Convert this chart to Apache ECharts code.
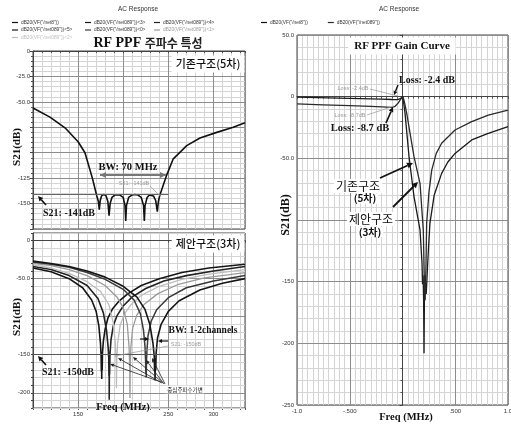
<!DOCTYPE html>
<html><head><meta charset="utf-8">
<script src="https://cdn.jsdelivr.net/npm/echarts@6/dist/echarts.min.js"></script>
<style>html,body{margin:0;padding:0;background:#fff}#c{width:511px;height:425px}</style>
</head><body><div id="c"></div>
<script>
// ---------- names ----------
const chartTitle = 'AC Response';
const NET8 = 'dB20(VF("/net8"))';
const NET089 = 'dB20(VF("/net089"))';
const n089 = k => NET089 + '<' + k + '>';

// ---------- tick labels ----------
const topYLabels = {'0':'0','-25':'-25.0','-50':'-50.0','-125':'-125','-150':'-150'};
const botYLabels = {'0':'0','-50':'-50.0','-150':'-150','-200':'-200'};
const leftXLabels = {'150':'150','250':'250','300':'300'};
const rightYLabels = {'50':'50.0','0':'0','-50':'-50.0','-150':'-150','-200':'-200','-250':'-250'};
const rightXLabels = {'-1':'-1.0','-0.5':'-.500','0.5':'.500','1':'1.0'};

// ---------- data: [freq MHz, S21 dB] ----------
// top-left: conventional 5th-order (net8)
const top5th = [[100,-56],[118.8,-65],[135.5,-75.5],[150.2,-89.5],[157.6,-100],[165.8,-125],[170.6,-142],[172.5,-148],[173.5,-156],[174.5,-147],[176,-142.5],[178.5,-141],[181,-142.5],[183,-148],[184.3,-162],[185.5,-150],[187.5,-144],[191,-141.5],[193,-141],[196,-141.5],[200,-144],[202,-152],[202.8,-167],[203.6,-152],[206,-144],[210,-141.5],[213,-141],[216,-141.5],[220,-144],[222.6,-152],[223.4,-167],[224.2,-152],[226.5,-144],[229,-141.5],[231,-141],[233.5,-142.5],[236,-147],[237.8,-158],[239,-148],[240.5,-142],[248.2,-122],[255.5,-106],[270.4,-93],[285.1,-85.6],[303.7,-80],[322,-75],[335,-70.6]];

// bottom-left: proposed 3rd-order, tuned centre frequency (net089<k>)
const tunedA = [[100,-36],[120,-41],[140,-50],[155,-62],[165,-78],[170,-93],[173,-112],[174.8,-135],[175.5,-152],[175.8,-172],[176,-156],[176.2,-182],[176.4,-154],[176.7,-170],[177,-148],[178,-132],[180,-116],[183,-102],[188,-90],[195,-80],[205,-70],[220,-59],[240,-50],[265,-42],[295,-36],[335,-31]];
const tunedB = [[100,-34],[120,-38],[140,-46],[160,-59],[172,-76],[178,-95],[181.5,-118],[183.3,-140],[184,-155],[184.2,-178],[184.4,-160],[184.5,-209],[184.7,-158],[184.9,-176],[185.3,-150],[186.5,-130],[189,-112],[193,-99],[200,-86],[210,-74],[225,-63],[245,-53],[270,-46],[300,-40],[335,-34]];
const tunedC = [[100,-32],[120,-36],[140,-43],[160,-54],[175,-67],[184,-84],[189,-108],[191.3,-135],[192.2,-160],[192.5,-194],[192.8,-160],[193.8,-135],[196.5,-112],[201,-97],[208,-85],[220,-72],[240,-60],[265,-51],[295,-44],[335,-38]];
const tunedD = [[100,-30],[120,-33],[140,-38],[160,-46],[180,-59],[193,-74],[200,-88],[204.5,-110],[206.5,-140],[207.2,-165],[207.5,-207],[207.8,-165],[208.5,-140],[210.5,-115],[215,-98],[223,-84],[238,-70],[260,-58],[290,-49],[335,-42]];
const tunedE = [[100,-28],[120,-31],[140,-35],[160,-42],[180,-51],[200,-64],[212,-78],[219,-96],[222.5,-118],[224.2,-140],[224.8,-158],[225.1,-175],[225.3,-160],[225.5,-180],[225.8,-158],[226.3,-145],[227.5,-125],[231,-106],[237,-91],[250,-75],[270,-62],[300,-53],[335,-46]];
const tunedF = [[100,-27],[120,-30],[140,-34],[160,-40],[180,-48],[200,-60],[215,-74],[224,-90],[229.5,-110],[233,-135],[234.4,-152],[234.8,-172],[235,-155],[235.3,-184],[235.6,-156],[236,-170],[236.5,-148],[238,-128],[242,-110],[250,-93],[262,-79],[285,-65],[310,-56],[335,-50]];

// right: gain curves vs normalised freq
const gain5th = [[-1,-0.4],[-0.8,-0.8],[-0.6,-1.2],[-0.4,-1.6],[-0.2,-2.0],[-0.1,-2.3],[-0.05,-2.4],[-0.025,-1.8],[-0.01,-0.7],[0,0],[0.008,-3],[0.024,-13.5],[0.062,-48.7],[0.109,-81],[0.166,-108],[0.185,-135],[0.19,-152],[0.195,-145],[0.2,-163],[0.204,-208],[0.208,-160],[0.215,-150],[0.225,-160],[0.235,-142],[0.245,-125],[0.26,-102.7],[0.3,-80],[0.371,-62.2],[0.43,-53],[0.498,-46],[0.656,-35.1],[0.813,-29.7],[1,-24.3]];
const gain3rd = [[-1,-5.9],[-0.75,-6.6],[-0.5,-7.3],[-0.3,-7.9],[-0.15,-8.5],[-0.1,-8.7],[-0.07,-7.8],[-0.04,-5],[-0.015,-1.8],[0.005,0],[0.02,-5],[0.04,-13.5],[0.109,-48.7],[0.166,-70.3],[0.197,-108],[0.205,-140],[0.209,-160],[0.212,-145],[0.215,-165],[0.218,-150],[0.222,-140],[0.229,-102.7],[0.25,-78],[0.277,-59.5],[0.32,-46],[0.371,-37.8],[0.498,-27],[0.656,-20.3],[0.813,-14.9],[1,-11]];

const tunedSeries = [
  {name:n089(3), data:tunedA, color:'#151515', w:1.6},
  {name:n089(4), data:tunedB, color:'#222222', w:1.6},
  {name:n089(2), data:tunedC, color:'#bdbdbd', w:1.3},
  {name:n089(1), data:tunedD, color:'#9a9a9a', w:1.3},
  {name:n089(0), data:tunedE, color:'#3a3a3a', w:1.5},
  {name:n089(5), data:tunedF, color:'#151515', w:1.6}
];
const colorOf = {};
colorOf[NET8] = '#111';
tunedSeries.forEach(s => colorOf[s.name] = s.color);

// ---------- styles ----------
const MAJOR = '#8c8c8c', MINOR = '#d4d4d4';
const labelStyle = {fontSize:6, color:'#333', fontFamily:'Liberation Sans'};
const SERIF_B = 'bold 11px "Liberation Serif"';

function mainX(grid, min, max, interval, labels) {
  return {type:'value', gridIndex:grid, min, max, interval, z:1,
    axisLine:{show:true, lineStyle:{color:'#444'}},
    axisTick:{show:true, length:2, inside:false, lineStyle:{color:'#444'}},
    axisLabel: labels ? {show:true, margin:3, ...labelStyle, formatter:v => labels[String(+v.toFixed(3))] || ''} : {show:false},
    splitLine:{show:true, lineStyle:{color:MAJOR, width:1}}};
}
function minorAxis(grid, min, max, interval, pos) {
  return {type:'value', gridIndex:grid, min, max, interval, z:0, position:pos,
    axisLine:{show:false}, axisLabel:{show:false},
    axisTick:{show:true, length:2, lineStyle:{color:'#555'}},
    splitLine:{show:true, lineStyle:{color:MINOR, width:1}}};
}
function mainY(grid, min, max, interval, labels) {
  return {type:'value', gridIndex:grid, min, max, interval, z:1,
    axisLine:{show:true, lineStyle:{color:'#444'}},
    axisTick:{show:true, length:3, lineStyle:{color:'#444'}},
    axisLabel:{show:true, margin:3, ...labelStyle, formatter:v => labels[String(v)] || ''},
    splitLine:{show:true, lineStyle:{color:MAJOR, width:1}}};
}

function txt(x, y, text, font, opt) {
  opt = opt || {};
  return {type:'text', x, y, z:100, rotation:opt.rot || 0,
    style:Object.assign({text, font, fill:opt.fill || '#111', align:'center', verticalAlign:'middle'},
      opt.bg ? {backgroundColor:'#fff', padding:opt.pad || [1,2]} : {}, opt.rich ? {rich:opt.rich} : {})};
}
function arrow(x1, y1, x2, y2, c, lw, h, hw) {
  const a = Math.atan2(y2 - y1, x2 - x1);
  const bx = x2 - h * Math.cos(a), by = y2 - h * Math.sin(a);
  const px = -Math.sin(a) * hw, py = Math.cos(a) * hw;
  return [
    {type:'line', z:100, shape:{x1, y1, x2:bx, y2:by}, style:{stroke:c, lineWidth:lw}},
    {type:'polygon', z:100, shape:{points:[[x2,y2],[bx+px,by+py],[bx-px,by-py]]}, style:{fill:c}}
  ];
}
function seg(x1, y1, x2, y2, c, lw) {
  return {type:'line', z:100, shape:{x1, y1, x2, y2}, style:{stroke:c, lineWidth:lw}};
}

const graphics = [
  txt(148, 43, '{a|RF PPF }{b|주파수 특성}', '', {rich:{a:{font:'bold 14px "Liberation Serif"', fill:'#111'}, b:{font:'bold 12px "Noto Sans CJK KR"', fill:'#222'}}}),
  txt(208, 64, '기존구조(5차)', '500 11px "Noto Sans CJK KR"', {bg:true, pad:[3,4]}),
  txt(208, 244, '제안구조(3차)', '500 11px "Noto Sans CJK KR"', {bg:true, pad:[3,4]}),
  txt(17, 147, 'S21(dB)', SERIF_B, {rot:Math.PI/2}),
  txt(17, 317, 'S21(dB)', SERIF_B, {rot:Math.PI/2}),
  txt(286, 215, 'S21(dB)', 'bold 12px "Liberation Serif"', {rot:Math.PI/2}),
  txt(123, 407, 'Freq (MHz)', 'bold 10.5px "Liberation Serif"'),
  txt(406, 417, 'Freq (MHz)', 'bold 10.5px "Liberation Serif"'),
  txt(128, 167, 'BW: 70 MHz', 'bold 10.5px "Liberation Serif"'),
  txt(134, 183, 'S21: -141dB', '5.5px "Liberation Sans"', {fill:'#999'}),
  txt(69, 213.5, 'S21: -141dB', 'bold 10px "Liberation Serif"'),
  txt(203, 331, 'BW: 1-2channels', 'bold 9.5px "Liberation Serif"'),
  txt(186, 344, 'S21: -150dB', '5.5px "Liberation Sans"', {fill:'#999'}),
  txt(68, 372.5, 'S21: -150dB', 'bold 10px "Liberation Serif"'),
  txt(185, 389.5, '중심주파수가변', '5.5px "Noto Sans CJK KR"', {bg:true, pad:[1,2]}),
  txt(402, 46, 'RF PPF Gain Curve', 'bold 11px "Liberation Serif"', {bg:true, pad:[3,6]}),
  txt(427, 80, 'Loss: -2.4 dB', 'bold 10px "Liberation Serif"'),
  txt(360, 128.5, 'Loss: -8.7 dB', 'bold 10.5px "Liberation Serif"'),
  txt(353, 88, 'Loss: -2.4dB', '5.5px "Liberation Sans"', {fill:'#999'}),
  txt(350, 115, 'Loss: -8.7dB', '5.5px "Liberation Sans"', {fill:'#999'}),
  txt(358, 186, '기존구조', '12px "Noto Sans CJK KR"', {bg:true, pad:[1,2]}),
  txt(365, 198.5, '(5차)', 'bold 10px "Noto Sans CJK KR"', {bg:true, pad:[0,2]}),
  txt(371, 219, '제안구조', '12px "Noto Sans CJK KR"', {bg:true, pad:[1,2]}),
  txt(370, 232, '(3차)', 'bold 10px "Noto Sans CJK KR"', {bg:true, pad:[0,2]}),
  seg(150, 186, 160, 196, '#999', 0.7),
  seg(168, 346, 115, 356, '#999', 0.7),
  seg(370, 89, 398, 96, '#999', 0.7),
  seg(367, 115, 394, 106, '#999', 0.7),
  ...arrow(100, 175, 166, 175, '#777', 2, 6, 3),
  ...arrow(166, 175, 100, 175, '#777', 2, 6, 3),
  ...arrow(46, 205, 38, 196, '#111', 1.6, 5, 2.5),
  ...arrow(46, 365, 38, 356, '#111', 1.6, 5, 2.5),
  ...arrow(140, 339, 149, 339, '#111', 1.2, 4, 2),
  ...arrow(168, 341, 158, 341, '#111', 1.2, 4, 2),
  ...arrow(161, 382, 110, 364, '#222', 0.8, 4, 1.8),
  ...arrow(162, 383, 118, 358, '#222', 0.8, 4, 1.8),
  ...arrow(163, 383, 133, 357, '#222', 0.8, 4, 1.8),
  ...arrow(164, 384, 146, 360, '#222', 0.8, 4, 1.8),
  ...arrow(165, 384, 152, 358, '#222', 0.8, 4, 1.8),
  ...arrow(380, 178, 413, 163, '#111', 1.8, 6, 3),
  ...arrow(393, 207, 418, 182, '#111', 1.8, 6, 3),
  ...arrow(398, 85, 394, 95, '#111', 1.4, 4, 2),
  ...arrow(386, 123, 393, 107, '#111', 1.6, 5, 2.5)
];

function legendData(names) {
  return names.map(n => ({name:n, textStyle:{color: (colorOf[n] === '#bdbdbd' || colorOf[n] === '#9a9a9a') ? colorOf[n] : '#333'}}));
}
const legendBase = {orient:'vertical', itemWidth:6, itemHeight:4, itemGap:2.5, icon:'path://M0,4H10V6H0Z', padding:0,
  textStyle:{fontSize:4.8, fontFamily:'Liberation Sans', color:'#333', padding:[0,0,0,-2]}};

const yBotMinorColors = [MINOR, MINOR, MAJOR, MINOR, MINOR];

const option = {
  animation:false,
  backgroundColor:'#fff',
  title:[
    {text:chartTitle, left:118, top:6, padding:0, textStyle:{fontSize:6.5, fontWeight:'normal', color:'#333', fontFamily:'Liberation Sans'}},
    {text:chartTitle, left:379, top:6, padding:0, textStyle:{fontSize:6.5, fontWeight:'normal', color:'#333', fontFamily:'Liberation Sans'}}
  ],
  legend:[
    Object.assign({}, legendBase, {left:12, top:20, data:legendData([NET8, n089(5), n089(2)])}),
    Object.assign({}, legendBase, {left:85, top:20, data:legendData([n089(3), n089(0)])}),
    Object.assign({}, legendBase, {left:154, top:20, data:legendData([n089(4), n089(1)])}),
    Object.assign({}, legendBase, {left:261, top:20, orient:'horizontal', itemGap:20, data:legendData([NET8, NET089])})
  ],
  grid:[
    {left:33, top:51, width:212, height:178, show:true, borderColor:'#444', borderWidth:1, backgroundColor:'#fff', outerBoundsMode:'none'},
    {left:33, top:233, width:212, height:175, show:true, borderColor:'#444', borderWidth:1, backgroundColor:'#fff', outerBoundsMode:'none'},
    {left:297, top:35, width:211, height:370, show:true, borderColor:'#444', borderWidth:1, backgroundColor:'#fff', outerBoundsMode:'none'}
  ],
  xAxis:[
    mainX(0, 100, 335, 50, null),
    minorAxis(0, 100, 335, 10, 'bottom'),
    mainX(1, 100, 335, 50, leftXLabels),
    minorAxis(1, 100, 335, 10, 'bottom'),
    mainX(2, -1, 1, 0.5, rightXLabels),
    minorAxis(2, -1, 1, 0.05, 'bottom')
  ],
  yAxis:[
    mainY(0, -175, 0, 25, topYLabels),
    minorAxis(0, -175, 0, 5, 'left'),
    Object.assign(mainY(1, -220, 10, 10, botYLabels), {splitLine:{show:true, lineStyle:{color:yBotMinorColors, width:1}},
      axisTick:{show:true, length:2, lineStyle:{color:'#444'}}}),
    mainY(2, -250, 50, 50, rightYLabels),
    minorAxis(2, -250, 50, 10, 'left')
  ],
  series:[
    {name:NET8, type:'line', xAxisIndex:0, yAxisIndex:0, data:top5th, showSymbol:false, symbol:'none',
      lineStyle:{color:'#111', width:1.6}, itemStyle:{color:'#111'}, z:3,
      markLine:{silent:true, symbol:'none', label:{show:false}, lineStyle:{color:'#666', width:1, type:'solid'},
        data:[[{coord:[100,-141]},{coord:[250,-141]}]]}},
    ...tunedSeries.map((s, i) => ({name:s.name, type:'line', xAxisIndex:2, yAxisIndex:2, data:s.data,
      showSymbol:false, symbol:'none', lineStyle:{color:s.color, width:s.w}, itemStyle:{color:s.color}, z:3,
      markLine: i === 0 ? {silent:true, symbol:'none', label:{show:false}, lineStyle:{color:'#555', width:1, type:'solid'},
        data:[[{coord:[100,-150]},{coord:[250,-150]}]]} : undefined})),
    {name:NET8, type:'line', xAxisIndex:4, yAxisIndex:3, data:gain5th, showSymbol:false, symbol:'none',
      lineStyle:{color:'#1a1a1a', width:1.3}, itemStyle:{color:'#111'}, z:3},
    {name:NET089, type:'line', xAxisIndex:4, yAxisIndex:3, data:gain3rd, showSymbol:false, symbol:'none',
      lineStyle:{color:'#2a2a2a', width:1.3}, itemStyle:{color:'#2a2a2a'}, z:3}
  ],
  graphic:{elements:graphics}
};

const chart = echarts.init(document.getElementById('c'), null, {renderer:'canvas'});
chart.setOption(option);
</script>
</body></html>
